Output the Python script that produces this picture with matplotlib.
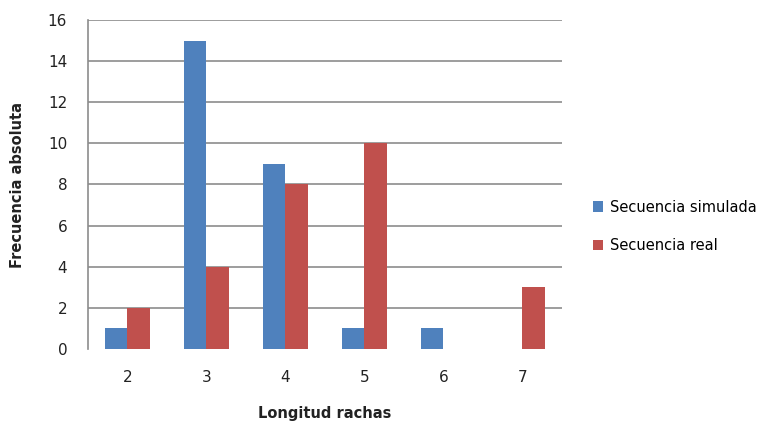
import matplotlib.pyplot as plt
import numpy as np

# Run lengths and their absolute frequencies
categories = ['2', '3', '4', '5', '6', '7']
simulada = [1, 15, 9, 1, 1, 0]
real = [2, 4, 8, 10, 0, 3]

blue = '#4F81BD'
red = '#C0504D'

fig = plt.figure(figsize=(7.75, 4.23), dpi=100)
ax = fig.add_axes([0.1135, 0.175, 0.6116, 0.7778])

x = np.arange(len(categories))
w = 0.285
ax.bar(x - w / 2, simulada, w, color=blue, label='Secuencia simulada', zorder=3)
ax.bar(x + w / 2, real, w, color=red, label='Secuencia real', zorder=3)

ax.set_xlim(-0.5, len(categories) - 0.5)
ax.set_ylim(0, 16)
ax.set_yticks(range(0, 17, 2))
ax.set_xticks(x)
ax.set_xticklabels(categories)

# horizontal gridlines
for v in range(2, 17, 2):
    ax.axhline(v, color='#8c8c8c', lw=1.2, zorder=1)

for side in ['top', 'right', 'bottom']:
    ax.spines[side].set_visible(False)
ax.spines['left'].set_color('#8c8c8c')
ax.spines['left'].set_linewidth(1.2)

ax.tick_params(axis='y', length=0, pad=15, labelsize=11, labelcolor='#222222')
ax.tick_params(axis='x', length=0, pad=15, labelsize=11, labelcolor='#222222')

# axis titles placed in figure coordinates
fig.text(0.4194, 1 - 413 / 423, 'Longitud rachas', fontsize=10.5, fontweight='bold',
         color='#222222', ha='center', va='center')
fig.text(18 / 775, 1 - 185 / 423, 'Frecuencia absoluta', fontsize=10.5, fontweight='bold',
         color='#222222', ha='center', va='center', rotation=90)

fig.legend(loc='center left', bbox_to_anchor=(0.748, 0.465), frameon=False,
           fontsize=10.5, handlelength=0.7, handleheight=0.7, handletextpad=0.5,
           labelspacing=1.6)

fig.savefig('out.png', dpi=100)
